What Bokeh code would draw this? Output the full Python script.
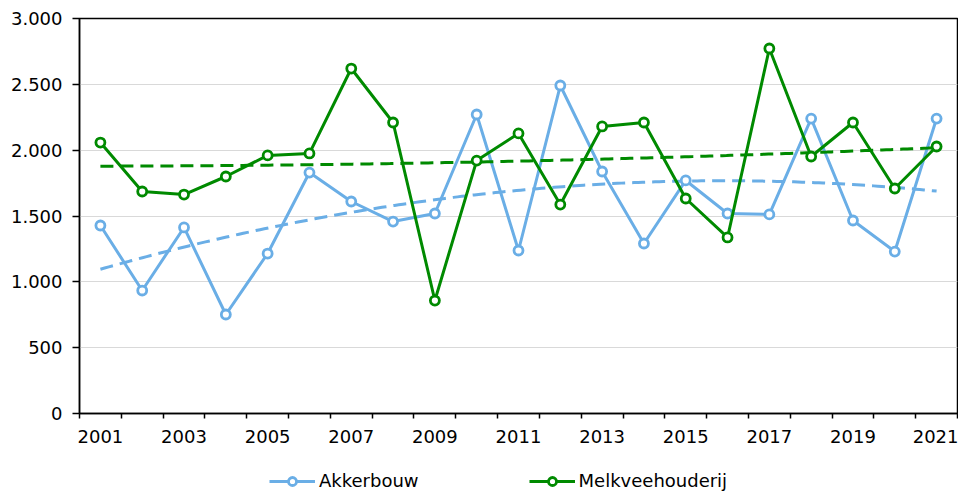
import numpy as np
from bokeh.plotting import figure
from bokeh.layouts import column
from bokeh.models import Range1d, FixedTicker, Legend, LegendItem, ColumnDataSource
from bokeh.embed import file_html
from bokeh.resources import INLINE

years = list(range(2001, 2022))
akkerbouw = [1428, 934, 1413, 752, 1215, 1830, 1610, 1458, 1519, 2271, 1238,
             2491, 1838, 1291, 1770, 1519, 1512, 2240, 1466, 1230, 2240]
melkvee = [2058, 1686, 1663, 1800, 1960, 1975, 2620, 2210, 858, 1921, 2127,
           1587, 2180, 2210, 1633, 1337, 2772, 1952, 2210, 1709, 2028]
series_names = ["Akkerbouw", "Melkveehouderij"]
y_ticks = [0, 500, 1000, 1500, 2000, 2500, 3000]
y_labels = ["0", "500", "1.000", "1.500", "2.000", "2.500", "3.000"]
x_label_years = years[::2]

BLUE = "#6aaee6"
GREEN = "#008a00"
FONT = "DejaVu Sans"
FS = "18px"

p = figure(width=958, height=460, output_backend="svg", toolbar_location=None,
           x_range=Range1d(years[0] - 0.5, years[-1] + 0.5),
           y_range=Range1d(y_ticks[0], y_ticks[-1]),
           min_border_left=79, min_border_right=1, min_border_top=18,
           min_border_bottom=47)
p.outline_line_color = "black"
p.outline_line_width = 1.5

p.xgrid.visible = False
p.ygrid.grid_line_color = "#d9d9d9"
p.ygrid.grid_line_width = 1

yax = p.yaxis[0]
yax.ticker = FixedTicker(ticks=y_ticks)
yax.major_label_overrides = {t: l for t, l in zip(y_ticks, y_labels)}
yax.major_tick_in = 0
yax.major_tick_out = 7
yax.minor_tick_line_color = None
yax.axis_line_color = "black"
yax.axis_line_width = 1.5
yax.major_tick_line_color = "black"
yax.major_tick_line_width = 1.5
yax.major_label_text_font = FONT
yax.major_label_text_font_size = FS
yax.major_label_text_color = "black"
yax.major_label_standoff = 10

bounds = [y - 0.5 for y in years] + [years[-1] + 0.5]
xax = p.xaxis[0]
xax.ticker = FixedTicker(ticks=x_label_years, minor_ticks=bounds)
xax.major_tick_line_color = None
xax.major_tick_in = 0
xax.major_tick_out = 5
xax.minor_tick_in = 0
xax.minor_tick_out = 5
xax.minor_tick_line_color = "black"
xax.minor_tick_line_width = 1.5
xax.axis_line_color = "black"
xax.axis_line_width = 1.5
xax.major_label_text_font = FONT
xax.major_label_text_font_size = FS
xax.major_label_text_color = "black"
xax.major_label_standoff = 11

# series with polynomial (order 2) trendlines fitted to the data
yrs = np.array(years, dtype=float)
tx = np.linspace(yrs[0], yrs[-1], 200)
for name, vals, col in [(series_names[0], akkerbouw, BLUE), (series_names[1], melkvee, GREEN)]:
    v = np.array(vals, dtype=float)
    coef = np.polyfit(yrs - 2000, v, 2)
    ty = np.polyval(coef, tx - 2000)
    p.line(tx, ty, line_color=col, line_width=3, line_dash="13 7")
    src = ColumnDataSource(dict(x=years, y=vals))
    p.line("x", "y", source=src, line_color=col, line_width=3)
    p.scatter("x", "y", source=src, size=9, marker="circle",
              fill_color="white", line_color=col, line_width=2.8)

# legend strip
lf = figure(width=958, height=35, output_backend="svg", toolbar_location=None,
            x_range=Range1d(0, 1), y_range=Range1d(0, 1),
            x_axis_location=None, y_axis_location=None,
            min_border_left=0, min_border_right=0, min_border_top=0,
            min_border_bottom=0)
lf.grid.visible = False
lf.outline_line_color = None
items = []
for name, col in [(series_names[0], BLUE), (series_names[1], GREEN)]:
    lr = lf.line([-5, -4], [-5, -4], line_color=col, line_width=3)
    sr = lf.scatter([-5], [-5], size=9, marker="circle", fill_color="white",
                    line_color=col, line_width=2.8)
    items.append(LegendItem(label=name, renderers=[lr, sr]))
legend = Legend(items=items, orientation="horizontal", location=(190, 4),
                label_text_font=FONT, label_text_font_size=FS,
                label_text_color="black", glyph_width=46, glyph_height=20,
                label_standoff=4, spacing=110, padding=0, margin=0,
                border_line_color=None, background_fill_alpha=0)
lf.add_layout(legend, "center")

open("out.html", "w").write(file_html(column(p, lf, spacing=0), INLINE))
